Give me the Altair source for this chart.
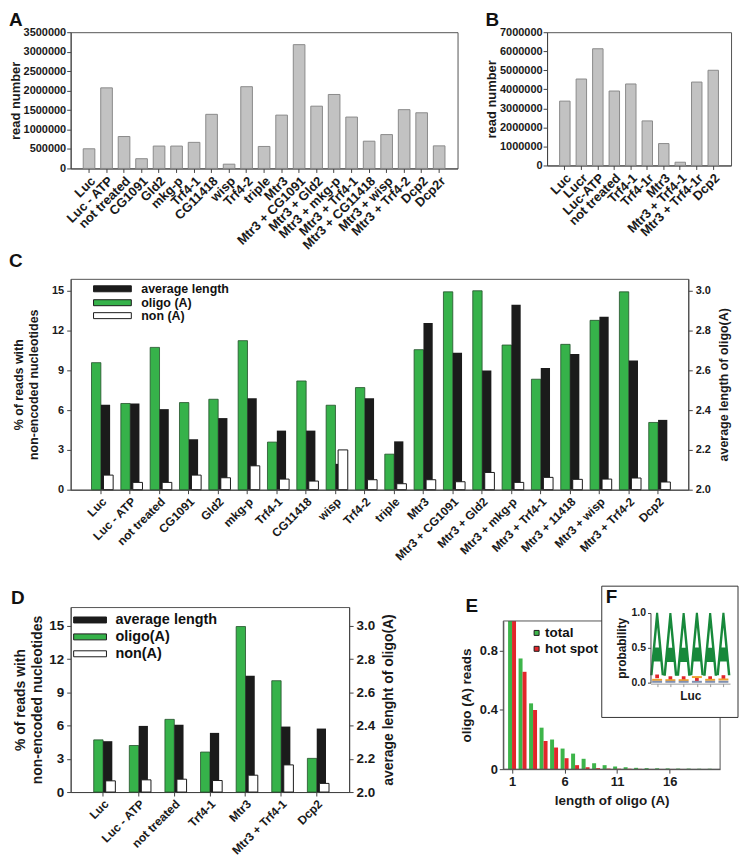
import altair as alt
import pandas as pd

FONT = "Liberation Sans"
GREEN = "#36b24a"
BLACK = "#1b1b1b"
GRAY_FILL = "#c2c2c2"
GRAY_STROKE = "#8a8a8a"
E_GREEN = "#3db54a"
E_RED = "#e2262b"
LOGO_GREEN = "#17893b"

# ---------------- data ----------------
a_samples = ["Luc", "Luc - ATP", "not treated", "CG1091", "Gld2", "mkg-p", "Trf4-1",
             "CG11418", "wisp", "Trf4-2", "triple", "Mtr3", "Mtr3 + CG1091", "Mtr3 + Gld2",
             "Mtr3 + mkg-p", "Mtr3 + Trf4-1", "Mtr3 + CG11418", "Mtr3 + wisp",
             "Mtr3 + Trf4-2", "Dcp2", "Dcp2r"]
a_reads = [505000, 2070000, 820000, 250000, 575000, 575000, 670000, 1390000, 110000,
           2100000, 565000, 1370000, 3180000, 1600000, 1900000, 1320000, 700000, 870000,
           1510000, 1430000, 580000]

b_samples = ["Luc", "Lucr", "Luc-ATP", "not treated", "Trf4-1", "Trf4-1r", "Mtr3",
             "Mtr3 + Trf4-1", "Mtr3 + Trf4-1r", "Dcp2"]
b_reads = [3380000, 4540000, 6130000, 3910000, 4280000, 2340000, 1150000, 170000,
           4380000, 5000000]

c_samples = ["Luc", "Luc - ATP", "not treated", "CG1091", "Gld2", "mkg-p", "Trf4-1",
             "CG11418", "wisp", "Trf4-2", "triple", "Mtr3", "Mtr3 + CG1091", "Mtr3 + Gld2",
             "Mtr3 + mkg-p", "Mtr3 + Trf4-1", "Mtr3 + 11418", "Mtr3 + wisp",
             "Mtr3 + Trf4-2", "Dcp2"]
c_oligo = [9.58, 6.5, 10.73, 6.57, 6.82, 11.24, 3.59, 8.2, 6.37, 7.7, 2.68, 10.56, 14.92,
           15.0, 10.91, 8.33, 10.96, 12.77, 14.92, 5.07]
c_avg = [2.427, 2.433, 2.405, 2.253, 2.36, 2.46, 2.297, 2.297, 2.13, 2.46, 2.243, 2.838,
         2.689, 2.599, 2.93, 2.612, 2.682, 2.869, 2.649, 2.351]
c_non = [1.1, 0.55, 0.55, 1.1, 0.9, 1.8, 0.8, 0.65, 3.0, 0.75, 0.45, 0.75, 0.6, 1.3, 0.55,
         0.93, 0.78, 0.8, 0.88, 0.58]

d_samples = ["Luc", "Luc - ATP", "not treated", "Trf4-1", "Mtr3", "Mtr3 + Trf4-1", "Dcp2"]
d_oligo = [4.71, 4.2, 6.56, 3.61, 14.94, 10.05, 3.04]
d_avg = [2.306, 2.398, 2.405, 2.356, 2.70, 2.394, 2.382]
d_non = [1.01, 1.1, 1.16, 1.04, 1.52, 2.45, 0.78]

e_length = list(range(1, 21))
e_total = [1.0, 0.747, 0.444, 0.28, 0.2, 0.139, 0.105, 0.07, 0.04, 0.027, 0.018, 0.013,
           0.009, 0.007, 0.006, 0.005, 0.004, 0.004, 0.003, 0.003]
e_hot = [1.0, 0.657, 0.40, 0.19, 0.146, 0.074, 0.027, 0.013, 0.007, 0.004, 0.003, 0.002,
         0.002, 0.001, 0.001, 0.001, 0.001, 0.0, 0.0, 0.0]

f_pos = [1, 2, 3, 4, 5, 6]
f_a_low = [0.11, 0.10, 0.10, 0.11, 0.10, 0.11]
f_a_high = [1.0, 1.0, 1.0, 1.0, 1.0, 1.0]
f_c = [0.09, 0.065, 0.065, 0.04, 0.065, 0.08]
f_g = [0.04, 0.035, 0.035, 0.08, 0.04, 0.045]
f_u = [0.012, 0.012, 0.012, 0.012, 0.012, 0.012]

c_legend = ["average length", "oligo (A)", "non (A)"]
d_legend = ["average length", "oligo(A)", "non(A)"]
legend_fills = [BLACK, GREEN, "white"]
e_legend = ["total", "hot spot"]
e_legend_fills = [E_GREEN, E_RED]

A_PATH = ("M-0.222,1L-0.033,-1L0.033,-1L0.222,1L0.144,1L0.103,0.56L-0.103,0.56L-0.144,1Z"
          "M-0.06,0.11L0.06,0.11L0,-0.53Z")
DASH_PATH = "M-1,-0.2L1,-0.2L1,0.2L-1,0.2Z"


def letter_mark(t, x, y, size=19):
    return alt.Chart(pd.DataFrame({"panel": [t]})).mark_text(
        align="left", baseline="top", fontSize=size, fontWeight="bold", font=FONT,
        color="#111").encode(x=alt.value(x), y=alt.value(y), text="panel:N")


def legend_layers(labels, fills, x0, x1, ys, h, tx, fs):
    layers = []
    for lab, fill, y in zip(labels, fills, ys):
        d = pd.DataFrame({"label": [lab]})
        layers.append(alt.Chart(d).mark_rect(fill=fill, stroke="#1b1b1b", strokeWidth=1).encode(
            x=alt.value(x0), x2=alt.value(x1), y=alt.value(y - h / 2), y2=alt.value(y + h / 2)))
        layers.append(alt.Chart(d).mark_text(align="left", baseline="middle", fontSize=fs,
                                             fontWeight="bold", font=FONT, color="#111").encode(
            x=alt.value(tx), y=alt.value(y), text="label:N"))
    return layers


def read_bars(samples, reads, ymax, step, bar_w, pad):
    df = pd.DataFrame({"sample": samples, "reads": reads})
    return alt.Chart(df).mark_bar(
        width=bar_w, fill=GRAY_FILL, stroke=GRAY_STROKE, strokeWidth=1).encode(
        x=alt.X("sample:N", sort=samples, title=None,
                scale=alt.Scale(paddingInner=0, paddingOuter=pad),
                axis=alt.Axis(labelAngle=315, labelFontSize=13, labelPadding=2)),
        y=alt.Y("reads:Q", scale=alt.Scale(domain=[0, ymax], nice=False),
                axis=alt.Axis(values=list(range(0, ymax + 1, step)), format="d",
                              title="read number", labelFontSize=11, titleFontSize=13,
                              labelPadding=1, titlePadding=1)),
    )


def grouped_layers(samples, oligo, avg, non, ymax, pad, right_title, legend,
                   lx0, lx1, lys, ltx, lfs, xfs, yfs, tfs, tpad, tlh):
    df = pd.DataFrame({"sample": samples, "oligo": oligo, "avg": avg, "non": non})
    base = alt.Chart(df)
    xenc = alt.X("sample:N", sort=samples, title=None,
                 scale=alt.Scale(paddingInner=0, paddingOuter=pad),
                 axis=alt.Axis(labelAngle=315, labelFontSize=xfs, labelPadding=2))
    green = base.mark_bar(width=9.4, xOffset=-4.7, fill=GREEN, stroke="#22502a",
                          strokeWidth=0.8).encode(
        x=xenc,
        y=alt.Y("oligo:Q", scale=alt.Scale(domain=[0, ymax], nice=False),
                axis=alt.Axis(orient="left", values=[0, 3, 6, 9, 12, 15],
                              title=["% of reads with", "non-encoded nucleotides"],
                              titleLineHeight=tlh, labelPadding=3,
                              labelFontSize=yfs, titleFontSize=tfs, titlePadding=tpad)))
    black = base.mark_bar(width=9.3, xOffset=4.65, fill=BLACK).encode(
        x=xenc,
        y=alt.Y("avg:Q", scale=alt.Scale(domain=[2, 2 + ymax / 15], nice=False, zero=False),
                axis=alt.Axis(orient="right", values=[2.0, 2.2, 2.4, 2.6, 2.8, 3.0],
                              format=".1f", title=right_title, titleAngle=270,
                              titleBaseline="top", labelFontSize=yfs, titleFontSize=tfs,
                              titlePadding=7, labelPadding=3)),
        y2=alt.datum(2.0))
    white = base.mark_bar(width=9.7, xOffset=7.5, fill="white", stroke="#1b1b1b",
                          strokeWidth=1).encode(
        x=xenc,
        y=alt.Y("non:Q", scale=alt.Scale(domain=[0, ymax], nice=False), axis=None))
    leg = legend_layers(legend, legend_fills, lx0, lx1, lys, 6, ltx, lfs)
    return [green, black, white] + leg


# ---------------- panels ----------------
chart_a = alt.layer(
    read_bars(a_samples, a_reads, 3500000, 500000, 11.7, 0.55),
    letter_mark("A", -62, -21),
    letter_mark("C", -62, 221),
).properties(width=389, height=137)

chart_b = alt.layer(
    read_bars(b_samples, b_reads, 7000000, 1000000, 10.5, 0.58),
    letter_mark("B", -62, -21),
).properties(width=185, height=134)

chart_c = alt.layer(*grouped_layers(
    c_samples, c_oligo, c_avg, c_non, 15.9, 0.53,
    "average length of oligo(A)", c_legend, 23, 61, [10, 24, 37], 71, 12.5,
    12, 11, 12.5, 11, 15)).resolve_scale(y="independent").properties(width=621, height=212)

chart_d = alt.layer(*grouped_layers(
    d_samples, d_oligo, d_avg, d_non, 16.7, 0.41,
    "average lenght of oligo(A)", d_legend, 3, 36, [13, 30, 47], 45, 14.5,
    12, 13.5, 14, 4, 17) + [letter_mark("D", -60, -18)]).resolve_scale(
    y="independent").properties(width=280, height=186)

# Panel E  (plot frame drawn as a mark so that the panel can start lower than D)
E_W, E_H, E_TOP = 218, 163, 14
e_df = pd.DataFrame({"length": e_length, "total": e_total, "hot": e_hot})
ex = alt.X("length:Q", scale=alt.Scale(domain=[0.64, 20.33], nice=False, zero=False),
           axis=alt.Axis(orient="bottom", values=[1, 6, 11, 16], title="length of oligo (A)",
                         labelFontSize=13, titleFontSize=13.5, titlePadding=6))
e_green = alt.Chart(e_df).mark_bar(width=4, xOffset=-2, fill=E_GREEN).encode(
    x=ex,
    y=alt.Y("total:Q", scale=alt.Scale(domain=[0, 1], range=[E_H, E_TOP], nice=False),
            axis=alt.Axis(orient="left", values=[0, 0.2, 0.4, 0.6, 0.8, 1], labelOverlap=False,
                          format="~g", title="oligo (A) reads", labelFontSize=13,
                          titleFontSize=13.5, titlePadding=6)))
e_red = alt.Chart(e_df).mark_bar(width=4, xOffset=2, fill=E_RED).encode(x=ex, y="hot:Q")
e_main = alt.layer(e_green, e_red)
e_frame = alt.Chart(pd.DataFrame({"panel": ["E"]})).mark_rect(
    fillOpacity=0, stroke="#555", strokeWidth=1).encode(
    x=alt.value(0), x2=alt.value(E_W), y=alt.value(E_TOP), y2=alt.value(E_H))
e_leg = legend_layers(e_legend, e_legend_fills, 31, 36, [E_TOP + 12, E_TOP + 28], 5, 42, 13.5)

# Panel F (inset inside E)
f_box = alt.Chart(pd.DataFrame({"panel": ["F"]})).mark_rect(
    fill="white", stroke="#333", strokeWidth=1).encode(
    x=alt.value(99), x2=alt.value(236), y=alt.value(E_TOP - 35), y2=alt.value(E_TOP + 97))
f_letter = letter_mark("F", 103, E_TOP - 33)

f_df = pd.DataFrame({"pos": f_pos, "lo": f_a_low, "hi": f_a_high,
                     "c": f_c, "g": f_g, "u": f_u})
fx = alt.X("pos:Q", scale=alt.Scale(domain=[0.5, 6.5], range=[148, 228], nice=False, zero=False),
           axis=alt.Axis(orient="bottom", offset=-86, values=f_pos, labels=False, tickSize=3,
                         title="Luc", titleFontSize=12, titlePadding=3, domainColor="#999",
                         tickColor="#999", zindex=2))
fy_scale = alt.Scale(domain=[0, 1], range=[E_TOP + 62, E_TOP - 8], nice=False)
f_a = alt.Chart(f_df).transform_calculate(mid="(datum.lo + datum.hi) / 2").mark_point(
    shape=A_PATH, size=3970, filled=True, fill=LOGO_GREEN, opacity=1, strokeWidth=0).encode(
    x=fx,
    y=alt.Y("mid:Q", scale=fy_scale,
            axis=alt.Axis(orient="left", offset=-148, values=[0, 0.5, 1.0], format=".1f",
                          labelOverlap=False, title="probability", labelFontSize=10.5,
                          titleFontSize=12, tickSize=3, titlePadding=3, zindex=2)))
f_cm = alt.Chart(f_df).mark_square(size=14, fill=E_RED, opacity=1).encode(x="pos:Q", y="c:Q")
f_gm = alt.Chart(f_df).mark_point(shape=DASH_PATH, size=100, filled=True, fill="#f0a030",
                                  opacity=1).encode(x="pos:Q", y="g:Q")
f_um = alt.Chart(f_df).mark_point(shape=DASH_PATH, size=100, filled=True, fill="#8090b0",
                                  opacity=1).encode(x="pos:Q", y="u:Q")
f_main = alt.layer(f_a, f_cm, f_gm, f_um)

chart_e = alt.layer(e_main, e_frame, *e_leg, letter_mark("E", -38, E_TOP - 24), f_box,
                    f_letter, f_main).resolve_scale(x="independent", y="independent").properties(
    width=E_W, height=E_H, view=alt.ViewBackground(stroke="transparent", strokeWidth=0))

row1 = alt.concat(chart_a, chart_b, columns=2, spacing=26, align="none", bounds="full")
row3 = alt.concat(chart_d, chart_e, columns=2, spacing=62, align="none", bounds="full")
top = alt.concat(row1, chart_c, columns=1, spacing=6, align="none", bounds="full")

chart = alt.concat(top, row3, columns=1, spacing=22, align="none", bounds="full").properties(
    padding=0).configure(font=FONT).configure_view(
    stroke="#555", strokeWidth=1).configure_axis(
    labelFont=FONT, titleFont=FONT, labelFontWeight="bold", titleFontWeight="bold",
    domainColor="#444", tickColor="#444", labelColor="#1a1a1a", titleColor="#1a1a1a",
    tickSize=4, grid=False)

chart.save("out.html", embed_options={"renderer": "svg", "actions": False})
